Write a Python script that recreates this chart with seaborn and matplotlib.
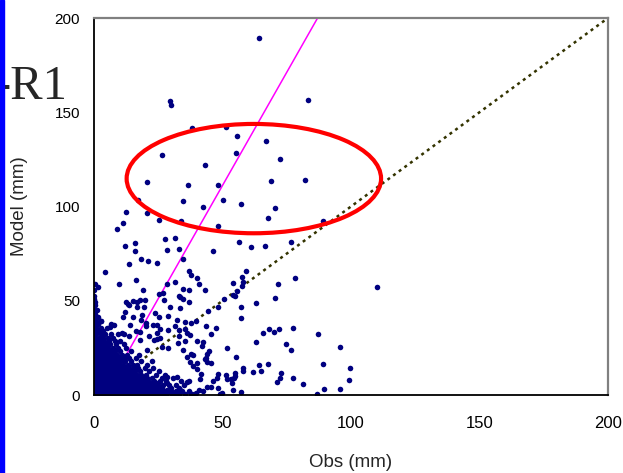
import matplotlib
matplotlib.use("Agg")
import matplotlib.pyplot as plt
from matplotlib.patches import Ellipse, Rectangle
import seaborn as sns
import pandas as pd

# ---- data ----
sparse_obs = [64.1, 29.4, 30.0, 83.4, 38.0, 51.5, 55.8, 66.8, 26.6, 55.3, 72.2, 43.2,
              20.6, 36.6, 48.1, 69.0, 82.1, 17.0, 34.6, 50.3, 57.2, 42.5, 70.4,
              12.6, 20.6, 11.2, 25.3, 33.7, 67.7, 89.0, 9.1, 48.2, 12.1, 16.0, 16.0, 27.5, 31.4,
              28.5, 33.2, 46.4, 56.3, 61.0, 66.4, 76.8, 18.2, 34.7, 21.0, 24.4, 13.7, 4.2, 36.8,
              37.9, 59.3, 57.7, 78.1, 110.0, 0.3, 1.4, 9.8, 16.5, 19.2, 31.4, 28.5,
              34.6, 40.9, 54.2, 71.5, 43.2, 54.9, 70.3, 63.0, 57.1, 57.1, 44.5, 37.9, 43.5, 47.4,
              45.6, 68.1, 69.9, 72.0, 77.3, 65.9, 87.3, 42.3, 63.2, 74.6, 76.7, 95.6, 51.6, 44.9,
              43.9, 43.6, 43.2, 55.3, 45.5, 43.9, 37.9, 37.4, 38.6, 40.0, 41.5, 58.1, 57.9, 64.3,
              67.8, 65.1, 61.9, 89.2, 99.7, 72.6, 72.4, 77.3, 81.2, 99.1, 71.2, 48.4, 51.5, 54.9,
              54.5, 53.4, 53.6, 41.1, 46.2, 44.0, 45.6, 41.0, 48.2, 54.2, 57.1, 49.0, 49.7, 39.6, 37.7,
              89.6, 95.8, 86.8, 0.1, 0.1, 0.1, 0.3, 15.3, 13.1, 18.0, 19.8, 25.2, 27.0, 33.0, 33.5,
              34.5, 27.2, 29.6, 33.5, 37.1, 16.8, 19.5, 48.1, 50.7, 54.1, 55.6, 57.7, 57.8, 40.0, 36.8,
              12.3, 23.6, 25.3, 22.8, 25.8, 23.3, 24.6, 12.2, 11.4, 15.3, 18.6, 20.2, 17.8, 16.3, 18.0,
              28.8, 32.4, 35.5, 33.2, 33.1, 37.5, 40.0, 42.1, 54.7, 48.0, 51.9,
              28.5, 28.5, 32.4, 36.1, 33.6, 30.2, 27.1, 24.5, 32.6, 34.5, 36.1, 38.6, 40.2, 28.9, 26.3, 20.5,
              2.6, 6.7, 7.8, 6.2, 11.0, 11.7, 13.6, 13.9, 13.5, 16.8, 18.4, 20.4, 21.3, 24.5, 24.4, 25.5,
              28.8, 31.4, 35.3, 35.3, 36.3, 39.6]
sparse_model = [189.2, 156.1, 153.7, 156.5, 141.5, 142.3, 137.4, 134.7, 127.3, 128.4, 125.2, 121.8,
                113.2, 111.6, 111.4, 113.5, 113.9, 103.4, 103.1, 103.4, 101.5, 99.7, 99.4,
                97.3, 96.4, 91.5, 92.8, 92.3, 93.9, 92.5, 87.9, 89.8, 79.2, 80.6, 76.4, 82.9, 83.5,
                76.9, 77.5, 76.6, 81.3, 78.7, 79.0, 81.2, 72.3, 72.3, 70.9, 70.2, 69.5, 65.3, 65.8,
                63.5, 65.8, 62.8, 62.1, 57.5, 58.7, 57.3, 58.9, 61.0, 55.9, 59.8, 58.7,
                56.2, 58.9, 59.4, 59.0, 55.7, 52.5, 51.5, 48.6, 46.8, 41.0, 44.4, 38.0, 36.8, 35.4,
                32.4, 35.0, 33.6, 34.8, 35.4, 32.7, 32.2, 28.1, 28.3, 27.2, 23.7, 25.5, 24.8, 23.2,
                21.6, 19.8, 18.9, 20.0, 17.1, 17.5, 21.7, 17.7, 15.5, 13.8, 11.0, 14.3, 12.7, 15.9,
                16.6, 12.9, 12.0, 16.6, 14.3, 11.7, 9.2, 9.0, 6.0, 7.8, 7.1, 11.0, 10.6, 9.9,
                9.2, 8.3, 6.5, 8.6, 7.3, 4.4, 4.4, 2.8, 3.9, 2.8, 1.8, 0.7, 1.2, 0.9, 0.2,
                3.2, 3.4, 0.5, 55.7, 52.5, 50.8, 49.5, 50.0, 48.3, 50.6, 50.4, 53.7, 54.3, 52.7, 52.0,
                50.9, 50.4, 46.8, 46.0, 49.3, 46.8, 46.8, 46.8, 50.7, 53.0, 55.2, 57.8, 59.8, 62.2, 55.5,
                49.2, 43.3, 41.5, 37.0, 34.9, 29.2, 29.5, 44.2, 41.5, 41.5, 42.2, 38.4, 33.6, 34.1, 29.2,
                41.9, 39.6, 34.9, 34.5, 31.5, 31.8, 28.8, 26.0, 11.5, 9.2, 8.5,
                9.7, 6.5, 9.7, 7.1, 2.7, 1.8, 1.2, 6.5, 27.7, 23.9, 20.3, 21.0, 16.8, 24.8, 25.6, 23.9,
                39.4, 37.7, 37.1, 36.2, 33.1, 32.2, 31.5, 37.1, 47.7, 49.2, 39.8, 36.6, 31.3, 37.0, 32.7, 30.1,
                34.5, 36.8, 38.9, 28.8, 32.7, 39.4]

# dense cluster near the origin, row by row (model level -> obs values)
dense_rows = {
    0.5: [0.5, 2, 3.5, 5, 6.5, 8, 9.5, 11, 12.5, 14, 15.5, 17, 18.5, 20, 22, 24, 26, 28, 31, 33, 35.5, 38],
    1.3: [1.2, 2.7, 4.2, 5.7, 7.2, 8.7, 10.2, 11.7, 13.2, 14.8, 16.4, 19.1, 21, 23.3, 25, 29.8],
    2.0: [0.3, 1.6, 3.1, 4.4, 6, 7.4, 8.9, 10.3, 11.8, 13.1, 14.7, 16.3, 17.8, 19.4, 21.2, 23, 25.5, 27.4, 29.5, 32, 34.4, 36.8, 42.6],
    2.9: [0.9, 2.5, 4, 5.5, 7, 8.5, 10, 11.5, 13, 14.5, 16, 18.6, 21.8, 24, 28.4],
    3.8: [0.6, 2.2, 3.7, 5.2, 6.8, 8.2, 9.7, 11.2, 12.7, 14.2, 15.8, 17.5, 19, 20.8, 22.5, 24.6, 26.4, 30.1, 33.2],
    4.7: [1.1, 2.6, 4.1, 5.9, 7.4, 8.9, 10.4, 11.9, 13.4, 15, 17, 19.8, 25.1],
    5.5: [0.2, 1.5, 3, 4.6, 6.1, 7.7, 9.2, 10.6, 12.2, 13.6, 15.2, 16.9, 18.4, 20.1, 21.8, 23.9, 27, 29, 31.9, 35],
    6.4: [0.8, 2.3, 3.8, 5.4, 6.9, 8.5, 10, 11.4, 12.9, 14.4, 16, 18.1, 22.6],
    7.2: [0.7, 2.3, 3.8, 5.3, 6.9, 8.4, 10, 11.5, 13, 14.6, 16.2, 17.6, 19.5, 21.2, 23.2, 25.7, 28.2, 33.8, 37],
    8.1: [1.2, 2.8, 4.3, 5.9, 7.5, 9, 10.6, 12.2, 13.7, 15.3, 18.3, 20.2],
    9.0: [0.3, 1.7, 3.3, 4.8, 6.4, 7.9, 9.5, 11, 12.4, 14, 15.6, 17.2, 19, 20.7, 22.7, 26.5, 30.6],
    9.9: [1, 2.6, 4.2, 5.8, 7.3, 8.8, 10.5, 12, 13.5, 16.3],
    10.8: [0.8, 2.4, 4, 5.6, 7.1, 8.6, 10.2, 11.8, 13.3, 15, 16.6, 18.3, 20.4, 24.2, 27.8],
    11.7: [0.2, 1.5, 3.1, 4.7, 6.2, 7.8, 9.4, 10.9, 12.4, 14.2],
    12.5: [0.4, 1.9, 3.4, 5, 6.5, 8.1, 9.6, 11.2, 12.9, 14.4, 16, 18, 21.5, 25.3],
    13.4: [1.2, 2.8, 4.4, 6, 7.6, 9.2, 10.8, 12.3],
    14.2: [0.9, 2.5, 4.1, 5.7, 7.2, 8.8, 10.4, 12.1, 13.7, 15.5, 17.3, 19.8, 23],
    15.1: [0.2, 1.6, 3.2, 4.8, 6.6, 8.2, 10.1],
    16.0: [0.3, 1.8, 3.4, 4.9, 6.4, 8, 9.6, 11.4, 13.1, 15, 16.9, 20.6],
    16.9: [1.2, 2.7, 4.3, 6, 7.7, 9.3],
    17.8: [0.8, 2.3, 3.9, 5.5, 7, 8.6, 10.3, 12.2, 14.3, 18.1, 22.5],
    18.7: [0.2, 1.4, 3, 4.6, 6.3, 8, 10.8],
    19.6: [0.4, 1.9, 3.5, 5, 6.6, 8.2, 9.9, 11.7, 13.5, 16.2],
    20.5: [1.2, 2.9, 4.5, 6.2, 8],
    21.4: [0.9, 2.6, 4.2, 5.8, 7.4, 9.1, 11, 12.8, 17.6],
    22.3: [0.2, 1.5, 3.2, 5.1, 6.8],
    23.2: [0.3, 1.8, 3.3, 4.9, 6.5, 8.3, 10.3, 14.4],
    24.1: [1.1, 2.8, 4.2],
    25.0: [0.7, 2.3, 3.9, 5.5, 7.3, 9.4, 12.3],
    26.8: [0.2, 1.6, 3.1, 4.7, 6.4, 8.6, 11.6],
    28.6: [0.8, 2.4, 4, 5.8, 8, 10.2],
    30.4: [0.3, 1.9, 3.5, 5.3, 7.4],
    32.2: [0.9, 2.6, 4.4, 6.8, 9.3],
    34.0: [0.3, 1.9, 3.6],
    35.8: [0.8, 2.8, 5.2],
    37.6: [0.2, 1.7],
    39.4: [0.6, 2.9],
    41.2: [0.2, 1.4],
    43.0: [0.5],
    45.0: [0.1, 1.2],
    47.5: [0.3],
}

# reference lines
fit_obs = [3.7, 87.0]
fit_model = [0.0, 200.0]
one_obs = [0.0, 200.0]
one_model = [0.0, 200.0]

# highlight ellipse (centre obs, centre model, width, height)
ell_center = (62.2, 114.8)
ell_size = (99.0, 58.0)

xticks = [0, 50, 100, 150, 200]
yticks = [0, 50, 100, 150, 200]

# ---- build table ----
obs_all = list(sparse_obs)
mod_all = list(sparse_model)
for m, xs in dense_rows.items():
    obs_all += xs
    mod_all += [m] * len(xs)
df = pd.DataFrame({"Obs": obs_all, "Model": mod_all})

sns.set_style("white")
plt.rcParams["font.family"] = ["Liberation Sans", "DejaVu Sans"]

fig = plt.figure(figsize=(6.23, 4.73), dpi=100)
ax = fig.add_axes([94 / 623, 1 - 395 / 473, 514 / 623, 377 / 473])

ax.plot(one_obs, one_model, color="#333300", lw=1.8, ls=(0, (1.2, 1.6)), zorder=1)
ax.plot(fit_obs, fit_model, color="#FF00FF", lw=1.1, zorder=1.5)
sns.scatterplot(data=df, x="Obs", y="Model", marker="o", s=16, color="#000080",
                linewidth=0, ax=ax, zorder=2)

ax.add_patch(Ellipse(ell_center, ell_size[0], ell_size[1], fill=False,
                     ec="#FF0000", lw=3.0, zorder=3))

ax.set_xlim(0, 200)
ax.set_ylim(0, 200)
ax.set_xticks(xticks)
ax.set_yticks(yticks)
ax.tick_params(axis="both", direction="in", length=5, width=1, colors="black")
ax.tick_params(axis="x", labelsize=12, pad=15)
ax.tick_params(axis="y", labelsize=11, pad=10)
for s in ["left", "bottom"]:
    ax.spines[s].set_color("black")
    ax.spines[s].set_linewidth(1.3)
for s in ["top", "right"]:
    ax.spines[s].set_color("#808080")
    ax.spines[s].set_linewidth(1.6)

ax.set_xlabel("Obs (mm)", fontsize=13.5, labelpad=17)
ax.set_ylabel("Model (mm)", fontsize=13.5, labelpad=19)

fig.text(67 / 623, 1 - 99 / 473, "-R1", family=["Liberation Serif", "DejaVu Serif"],
         fontsize=35, ha="right", va="baseline")
fig.add_artist(Rectangle((0, 0), 4 / 623, 1, transform=fig.transFigure,
                         color="#0000FF", zorder=10))

fig.savefig("out.png", dpi=100)
